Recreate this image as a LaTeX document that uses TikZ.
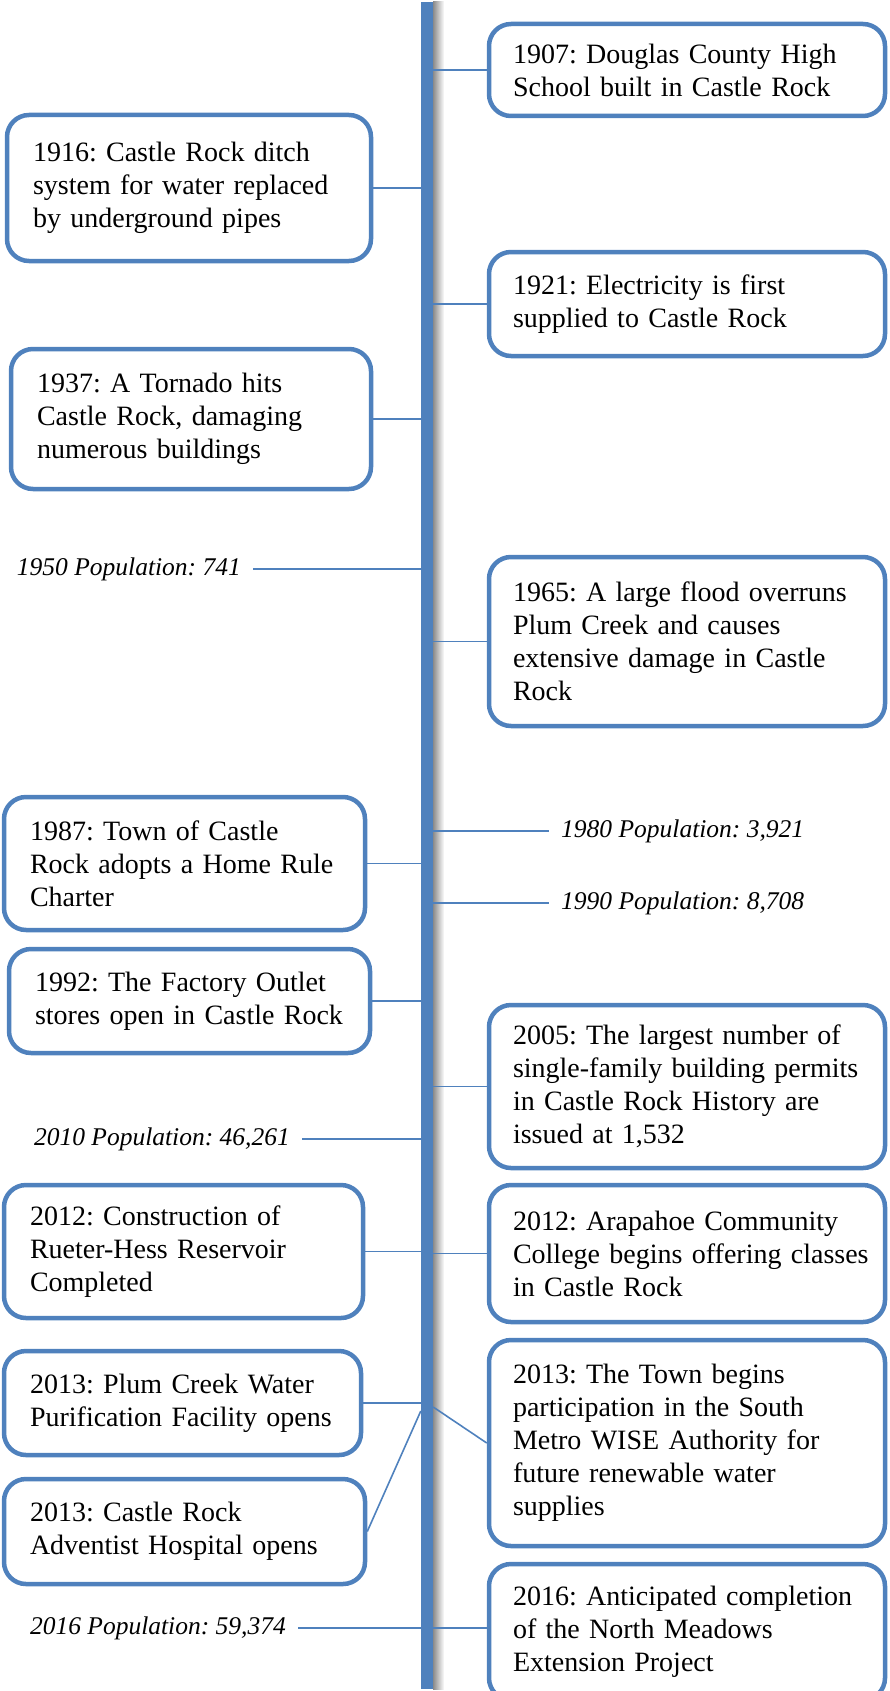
\documentclass[tikz,border=0pt]{standalone}
\usepackage{fontspec}
\setmainfont{Liberation Serif}
\frenchspacing
\usetikzlibrary{positioning}
\definecolor{tlblue}{HTML}{4F81BD}
\tikzstyle{evbox} = [rectangle, rounded corners=22pt,
inner xsep=26pt,
inner ysep=0pt,
align=left,
fill=white,
line width=4.5pt,
font=\fontsize{28}{33}\selectfont,
draw=tlblue]
\tikzstyle{evright} = [evbox, inner xsep=24pt, text width=348pt]
\tikzstyle{poplabel} = [inner xsep=12pt, inner ysep=0pt, font=\fontsize{25.5}{30}\selectfont\itshape]
\tikzstyle{spinebar} = [rectangle, fill=tlblue, minimum width=12pt, minimum height=1687pt, inner sep=0pt]
\tikzstyle{tlline} = [draw=tlblue, line width=1.6pt]

\begin{document}
\begin{tikzpicture}[x=1pt, y=-1pt]
		\useasboundingbox (0,0) rectangle (890,1691);
		\node (spine) [spinebar] at (427,845.5) {};
		\shade [left color=black!45, right color=white] (spine.north east) rectangle ([xshift=11pt]spine.south east);
		\node (spine) [spinebar] at (427,845.5) {};

		% right side
		\node (b1907) [evright, minimum height=92pt] at (687,70) {1907: Douglas County High\\School built in Castle Rock};
		\node (b1921) [evright, minimum height=104pt] at (687,304) {1921: Electricity is first\\supplied to Castle Rock};
		\node (b1965) [evright, minimum height=169pt] at (687,641.5) {1965: A large flood overruns\\Plum Creek and causes\\extensive damage in Castle\\Rock};
		\node (b2005) [evright, minimum height=163pt] at (687,1086.5) {2005: The largest number of\\\mbox{single-family building permits}\\in Castle Rock History are\\issued at 1,532};
		\node (b2012r) [evright, minimum height=137pt] at (687,1253.5) {2012: Arapahoe Community\\\mbox{College begins offering classes}\\in Castle Rock};
		\node (b2013r) [evright, minimum height=206pt] at (687,1443) {2013: The Town begins\\participation in the South\\Metro WISE Authority for\\future renewable water\\supplies};
		\node (b2016) [evright, minimum height=136pt] at (687,1632) {2016: Anticipated completion\\of the North Meadows\\Extension Project};

		% left side
		\node (b1916) [evbox, text width=312pt, minimum height=146pt] at (189,188) {1916: Castle Rock ditch\\system for water replaced\\by underground pipes};
		\node (b1937) [evbox, text width=308pt, minimum height=140pt] at (191,419) {1937: A Tornado hits\\Castle Rock, damaging\\numerous buildings};
		\node (b1987) [evbox, text width=309pt, minimum height=133pt] at (184.5,863.5) {1987: Town of Castle\\Rock adopts a Home Rule\\Charter};
		\node (b1992) [evbox, text width=309pt, minimum height=104pt] at (189.5,1001) {1992: The Factory Outlet\\stores open in Castle Rock};
		\node (b2012l) [evbox, text width=307pt, minimum height=133pt] at (183.5,1251.5) {2012: Construction of\\Rueter-Hess Reservoir\\Completed};
		\node (b2013p) [evbox, text width=305pt, minimum height=104pt] at (182.5,1403) {2013: Plum Creek Water\\Purification Facility opens};
		\node (b2013h) [evbox, text width=309pt, minimum height=105pt] at (184.5,1531.5) {2013: Castle Rock\\Adventist Hospital opens};

		% population figures
		\node (p1950) [poplabel, anchor=east] at (253,569) {1950 Population: 741};
		\node (p1980) [poplabel, anchor=west] at (549,831) {1980 Population: 3,921};
		\node (p1990) [poplabel, anchor=west] at (549,903) {1990 Population: 8,708};
		\node (p2010) [poplabel, anchor=east] at (302,1139) {2010 Population: 46,261};
		\node (p2016) [poplabel, anchor=east] at (298,1628) {2016 Population: 59,374};

		\draw [tlline](b1907.west -| spine.east) -- (b1907.west);
		\draw [tlline](b1921.west -| spine.east) -- (b1921.west);
		\draw [tlline](b1965.west -| spine.east) -- (b1965.west);
		\draw [tlline](b2005.west -| spine.east) -- (b2005.west);
		\draw [tlline](b2012r.west -| spine.east) -- (b2012r.west);
		\draw [tlline](p2016.east -| spine.east) -- (b2016.west |- p2016.east);
		\draw [tlline](b1916.east) -- (b1916.east -| spine.west);
		\draw [tlline](b1937.east) -- (b1937.east -| spine.west);
		\draw [tlline](b1987.east) -- (b1987.east -| spine.west);
		\draw [tlline](b1992.east) -- (b1992.east -| spine.west);
		\draw [tlline](b2012l.east) -- (b2012l.east -| spine.west);
		\draw [tlline](b2013p.east) -- (b2013p.east -| spine.west);
		\coordinate (j2013) at ([yshift=-8pt]b2013p.east -| spine.west);
		\draw [tlline](j2013) -- (b2013h.east);
		\draw [tlline]([yshift=-4pt]b2013p.east -| spine.east) -- (b2013r.west);
		\draw [tlline](p1950.east) -- (p1950.east -| spine.west);
		\draw [tlline](p1980.west -| spine.east) -- (p1980.west);
		\draw [tlline](p1990.west -| spine.east) -- (p1990.west);
		\draw [tlline](p2010.east) -- (p2010.east -| spine.west);
		\draw [tlline](p2016.east) -- (p2016.east -| spine.west);
	\end{tikzpicture}
\end{document}
